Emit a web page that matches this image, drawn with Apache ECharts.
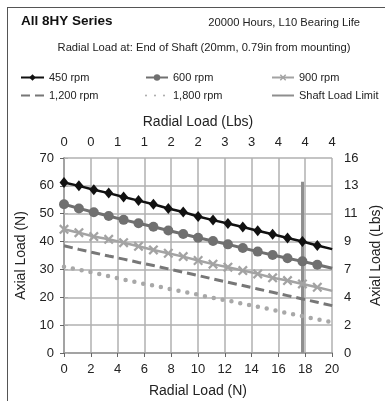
<!DOCTYPE html>
<html>
<head>
<meta charset="utf-8">
<script src="https://cdn.jsdelivr.net/npm/echarts@6/dist/echarts.min.js"></script>
<style>
  html, body { margin: 0; padding: 0; background: #fff; }
  #chart { width: 385px; height: 401px; }
</style>
</head>
<body>
<div id="chart"></div>
<script>
// Radial load samples: one every 0.25 lbf, expressed in newtons
const LBF_TO_N = 4.448;
const radialSteps = [0, 1, 2, 3, 4, 5, 6, 7, 8, 9, 10, 11, 12, 13, 14, 15, 16, 17, 18];
const radialN = radialSteps.map(s => s * 0.25 * LBF_TO_N);

// Allowed axial load (N) for each speed
const rpm450  = [61.2, 60.0, 58.6, 57.4, 56.0, 54.7, 53.4, 51.9, 50.6, 49.0, 47.7, 46.5, 45.2, 43.9, 42.6, 41.3, 40.0, 38.6, 37.3];
const rpm600  = [53.4, 51.9, 50.5, 49.2, 47.8, 46.6, 45.3, 44.0, 42.7, 41.4, 40.2, 39.0, 37.7, 36.4, 35.2, 34.0, 32.9, 31.7, 30.4];
const rpm900  = [44.4, 43.2, 41.8, 40.8, 39.6, 38.3, 37.0, 35.8, 34.6, 33.2, 31.9, 30.8, 29.6, 28.4, 27.0, 26.0, 24.8, 23.6, 22.3];
const rpm1200 = [38.5, 37.2, 36.0, 34.8, 33.7, 32.5, 31.4, 30.2, 29.0, 27.8, 26.6, 25.4, 24.2, 23.0, 21.8, 20.6, 19.4, 18.2, 17.0];
const rpm1800 = [31.0, 29.9, 28.8, 27.6, 26.4, 25.2, 24.2, 23.1, 22.0, 20.9, 19.8, 18.8, 17.7, 16.6, 15.5, 14.3, 13.2, 12.1, 11.0];

// Shaft load limit: vertical line at the maximum radial load
const shaftLimitN = [17.8, 17.8];
const shaftLimitAxial = [0, 61.5];

const xMax = 20;
const FONT = '"Liberation Sans", Arial, sans-serif';
const GRID_COLOR = '#b0b0b0';
const AXIS_COLOR = '#666';
const CLEAR = 'rgba(0,0,0,0)';

function pairs(xs, ys) {
  return ys.map((y, i) => xs[i] > xMax
    ? { value: [xs[i], y], symbol: 'none' }
    : [xs[i], y]);
}

const toLbs = v => String(Math.round(v / LBF_TO_N));

const xCross = 'path://M0,1.6L1.6,0L5,3.4L8.4,0L10,1.6L6.6,5L10,8.4L8.4,10L5,6.6L1.6,10L0,8.4L3.4,5Z';

const chart = echarts.init(document.getElementById('chart'), null, { renderer: 'canvas' });

const legendText = { fontFamily: FONT, fontSize: 11, color: '#222' };
function legendCol(left, width, names) {
  return {
    left: left, top: 72, orient: 'vertical', itemGap: 7,
    itemWidth: width, itemHeight: 8, padding: 0,
    textStyle: legendText, selectedMode: false,
    data: names
  };
}

chart.setOption({
  animation: false,
  backgroundColor: '#fff',
  textStyle: { fontFamily: FONT },
  title: [
    { text: 'All 8HY Series', left: 16, top: 9,
      textStyle: { fontFamily: FONT, fontSize: 13.5, fontWeight: 'bold', color: '#111' } },
    { text: '20000 Hours, L10 Bearing Life', right: 20, top: 12,
      textStyle: { fontFamily: FONT, fontSize: 11.2, fontWeight: 'normal', color: '#222' } },
    { text: 'Radial Load at: End of Shaft (20mm, 0.79in from mounting)', left: 199, top: 37, textAlign: 'center',
      textStyle: { fontFamily: FONT, fontSize: 11.2, fontWeight: 'normal', color: '#222' } }
  ],
  legend: [
    legendCol(20, 23, ['450 rpm', '1,200 rpm']),
    legendCol(145, 22, ['600 rpm', '1,800 rpm']),
    legendCol(271, 22, ['900 rpm', 'Shaft Load Limit'])
  ],
  graphic: [
    { type: 'line', shape: { x1: 7.5, y1: 7, x2: 7.5, y2: 401 }, style: { stroke: '#555', lineWidth: 1 } },
    { type: 'line', shape: { x1: 7, y1: 7.5, x2: 385, y2: 7.5 }, style: { stroke: '#555', lineWidth: 1 } }
  ],
  grid: { left: 64, right: 53, top: 158, bottom: 48, containLabel: false, outerBoundsMode: 'none' },
  xAxis: [
    {
      type: 'value', position: 'bottom', min: 0, max: xMax, interval: 2,
      name: 'Radial Load (N)', nameLocation: 'middle', nameGap: 31,
      nameTextStyle: { fontFamily: FONT, fontSize: 14, color: '#222' },
      axisLine: { show: true, lineStyle: { color: AXIS_COLOR, width: 1.5 } },
      axisTick: { show: true, length: 4, lineStyle: { color: AXIS_COLOR } },
      axisLabel: { fontFamily: FONT, fontSize: 13, color: '#222', margin: 10 },
      splitLine: { show: true, lineStyle: { color: GRID_COLOR, width: 1.5 } }
    },
    {
      type: 'value', position: 'top', min: 0, max: xMax, interval: 2,
      name: 'Radial Load (Lbs)', nameLocation: 'middle', nameGap: 29,
      nameTextStyle: { fontFamily: FONT, fontSize: 14, color: '#222' },
      axisLine: { show: true, lineStyle: { color: GRID_COLOR, width: 1.5 } },
      axisTick: { show: false },
      axisLabel: { fontFamily: FONT, fontSize: 13, color: '#222', margin: 9, formatter: toLbs },
      splitLine: { show: false }
    }
  ],
  yAxis: [
    {
      type: 'value', position: 'left', min: 0, max: 70, interval: 10,
      name: 'Axial Load (N)', nameLocation: 'middle', nameGap: 33, nameRotate: 90,
      nameTextStyle: { fontFamily: FONT, fontSize: 14, color: '#222' },
      axisLine: { show: true, lineStyle: { color: AXIS_COLOR, width: 1.5 } },
      axisTick: { show: true, length: 4, lineStyle: { color: AXIS_COLOR } },
      axisLabel: { fontFamily: FONT, fontSize: 13, color: '#222', margin: 10 },
      splitLine: { show: true, lineStyle: { color: GRID_COLOR, width: 1.5 } }
    },
    {
      type: 'value', position: 'right', min: 0, max: 70, interval: 10,
      name: 'Axial Load (Lbs)', nameLocation: 'middle', nameGap: 34, nameRotate: 90,
      nameTextStyle: { fontFamily: FONT, fontSize: 14, color: '#222' },
      axisLine: { show: true, lineStyle: { color: GRID_COLOR, width: 1.5 } },
      axisTick: { show: true, length: 4, lineStyle: { color: GRID_COLOR } },
      axisLabel: { fontFamily: FONT, fontSize: 13, color: '#222', margin: 12, formatter: toLbs },
      splitLine: { show: false }
    }
  ],
  series: [
    {
      name: '450 rpm', type: 'line', data: pairs(radialN, rpm450),
      symbol: 'diamond', symbolSize: [9, 11], showAllSymbol: true,
      lineStyle: { color: '#111', width: 2.5 },
      itemStyle: { color: '#111' }, z: 5
    },
    {
      name: '600 rpm', type: 'line', data: pairs(radialN, rpm600),
      symbol: 'circle', symbolSize: 10, showAllSymbol: true,
      lineStyle: { color: '#707070', width: 3 },
      itemStyle: { color: '#707070' }, z: 4
    },
    {
      name: '900 rpm', type: 'line', data: pairs(radialN, rpm900),
      symbol: xCross, symbolSize: 10, showAllSymbol: true,
      lineStyle: { color: '#a3a3a3', width: 2.5 },
      itemStyle: { color: '#a3a3a3' }, z: 3
    },
    {
      name: '1,200 rpm', type: 'line', data: pairs(radialN, rpm1200),
      symbol: 'circle', showSymbol: false,
      lineStyle: { color: '#777', width: 3, type: [9, 5] },
      itemStyle: { color: CLEAR, borderColor: CLEAR }, z: 3
    },
    {
      name: '1,800 rpm', type: 'line', data: pairs(radialN, rpm1800),
      symbol: 'circle', showSymbol: false,
      lineStyle: { color: '#a8a8a8', width: 4.5, type: [0, 9], cap: 'round' },
      itemStyle: { color: CLEAR, borderColor: CLEAR }, z: 3
    },
    {
      name: 'Shaft Load Limit', type: 'line',
      data: shaftLimitAxial.map((v, i) => [shaftLimitN[i], v]),
      symbol: 'circle', showSymbol: false,
      lineStyle: { color: '#8e8e8e', width: 3 },
      itemStyle: { color: CLEAR, borderColor: CLEAR }, z: 2
    }
  ]
});
</script>
</body>
</html>
